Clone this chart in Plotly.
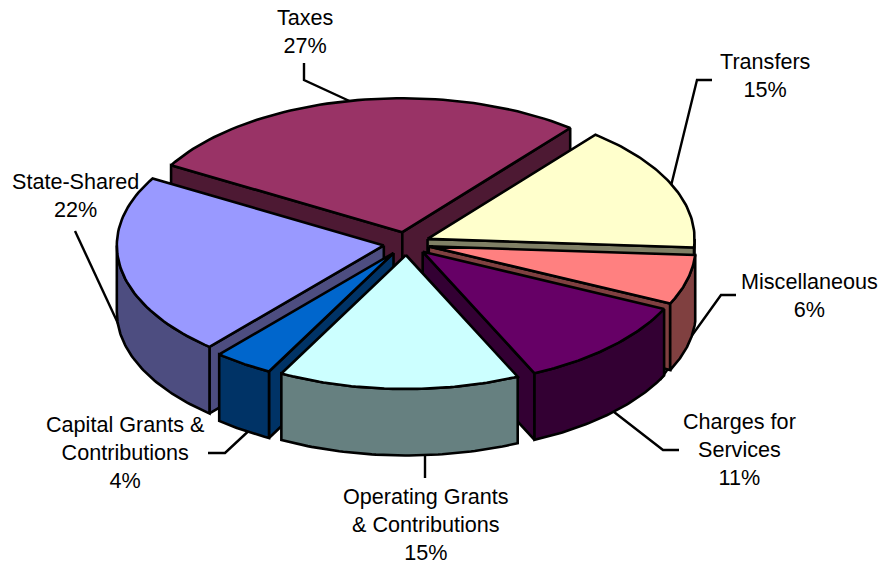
import numpy as np
import plotly.graph_objects as go

# Revenue sources in percent, clockwise from the top-left edge of the Taxes slice
category_lines = ["Taxes", "Transfers", "Miscellaneous", "Charges for<br>Services",
                  "Operating Grants<br>& Contributions",
                  "Capital Grants &<br>Contributions", "State-Shared"]
shares = [27.49, 15.2, 6.0, 11.1, 14.6, 3.6, 22.01]
top_colors = ["#993366", "#FFFFCC", "#FF8080", "#660066", "#CCFFFF", "#0066CC", "#9999FF"]
side_colors = ["#4D1933", "#808066", "#804040", "#330033", "#668080", "#003366", "#4D4D80"]

# Pie geometry in page pixels
CX, CY = 406.5, 243.5
RX, RY = 267.0, 134.0
DEPTH = 66.5
EXPLODE = 23.0
START_DEG = -60.0

# Label centres and leader-line routes, in page pixels
label_pos = [(305, 31), (765, 75), (809, 295), (739, 449), (426, 524), (125, 452), (75, 195)]
leaders = [
    [(356, 104), (304, 80), (304, 63)],
    [(670, 190), (697, 80), (712, 80)],
    [(660, 380), (721, 295), (736, 295)],
    [(605, 405), (663, 450), (679, 450)],
    [(425, 450), (425, 478)],
    [(255, 425), (225, 453), (208, 453)],
    [(135, 360), (75, 231)],
]


def rim(center, a0, a1, drop=0.0, n=60):
    """Points along the elliptical rim between two clockwise angles."""
    t = np.radians(np.linspace(a0, a1, n))
    return center[0] + RX * np.sin(t), center[1] - RY * np.cos(t) + drop


fig = go.Figure()


def face(x, y, color):
    fig.add_trace(go.Scatter(
        x=list(x) + [x[0]], y=list(y) + [y[0]], mode="lines", fill="toself",
        fillcolor=color, line=dict(color="black", width=2.6),
        hoverinfo="skip", showlegend=False))


# Leader lines sit behind the pie so the body trims their inner ends
for route in leaders:
    fig.add_trace(go.Scatter(
        x=[p[0] for p in route], y=[p[1] for p in route], mode="lines",
        line=dict(color="black", width=2.4), hoverinfo="skip", showlegend=False))

# Slice angles follow from the shares
edges = START_DEG + np.cumsum([0] + shares) * 3.6
slices = []
for i in range(len(shares)):
    a0, a1 = edges[i], edges[i + 1]
    mid = np.radians((a0 + a1) / 2)
    tip = (CX + EXPLODE * np.sin(mid), CY - EXPLODE * 0.5 * np.cos(mid))
    slices.append((-np.cos(mid), i, a0, a1, tip))


def radial_wall(tip, edge, color):
    ex, ey = rim(tip, edge, edge, n=1)
    face([tip[0], ex[0], ex[0], tip[0]],
         [tip[1], ey[0], ey[0] + DEPTH, tip[1] + DEPTH], color)


# Paint back to front so nearer slices cover farther ones; faces turned
# away from the viewer are skipped
for _, i, a0, a1, tip in sorted(slices):
    side = side_colors[i]
    if np.cos(np.radians(a0 - 90)) < 0:
        radial_wall(tip, a0, side)
    if np.cos(np.radians(a1 + 90)) < 0:
        radial_wall(tip, a1, side)
    front0, front1 = max(a0, 90), min(a1, 270)
    if front1 > front0:
        ax, ay = rim(tip, front0, front1)
        face(np.r_[ax, ax[::-1]], np.r_[ay, ay[::-1] + DEPTH], side)
    tx, ty = rim(tip, a0, a1)
    face(np.r_[tip[0], tx], np.r_[tip[1], ty], top_colors[i])

for name, share, (x, y) in zip(category_lines, shares, label_pos):
    fig.add_annotation(x=x, y=y, text=f"{name}<br>{round(share)}%", showarrow=False,
                       align="center", xanchor="center", yanchor="middle",
                       font=dict(family="Liberation Sans, Arial, sans-serif",
                                 size=21.6, color="black"))

fig.update_xaxes(range=[0, 881], visible=False, fixedrange=True)
fig.update_yaxes(range=[564, 0], visible=False, fixedrange=True)
fig.update_layout(width=881, height=564, margin=dict(l=0, r=0, t=0, b=0),
                  paper_bgcolor="white", plot_bgcolor="white", showlegend=False)

fig.write_html("out.html", config={"displayModeBar": False},
               include_plotlyjs=True)
